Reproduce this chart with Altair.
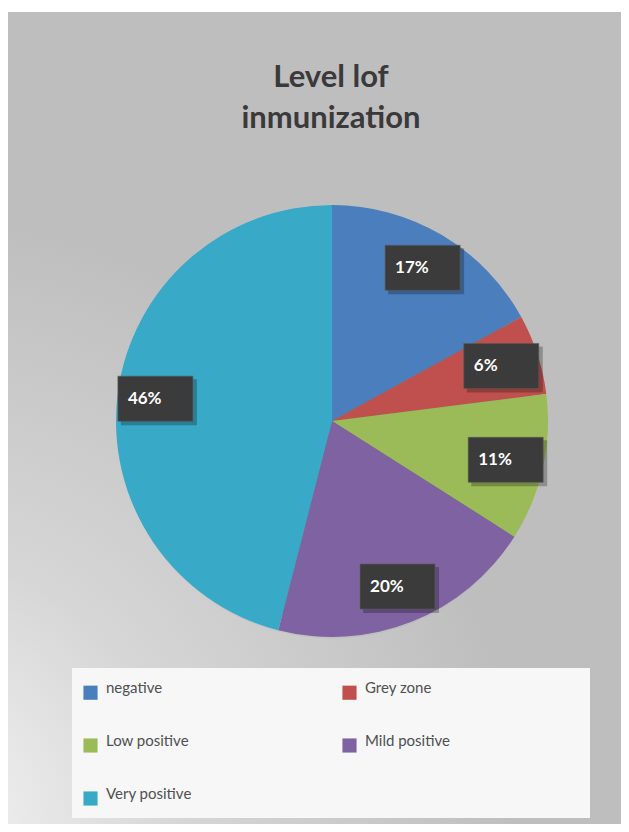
import math
import altair as alt
import pandas as pd

# ---- data ----
title_lines = ["Level lof", "inmunization"]
categories = ["negative", "Grey zone", "Low positive", "Mild positive", "Very positive"]
values = [17, 6, 11, 20, 46]
colors = ["#4a7ebd", "#c0504d", "#9bbb59", "#7f62a1", "#38a9c6"]

# legend fills column by column: reorder so it reads row by row like the original
legend_order = ["negative", "Low positive", "Very positive", "Grey zone", "Mild positive"]
legend_colors = [colors[categories.index(c)] for c in legend_order]

df = pd.DataFrame({"category": categories, "value": values, "idx": list(range(len(values)))})
one = pd.DataFrame({"a": [0]})

# ---- layout / style ----
W, H = 613, 816
CX, CY = 324, 413
R = 216
LR = 178          # label radius
BW, BH = 75, 45   # label box size
FONT = "Lato"

bg = alt.Chart(one).mark_rect(
    color=alt.Gradient(
        gradient="radial",
        x1=0.0, y1=1.0, r1=0.0, x2=0.0, y2=1.0, r2=0.75,
        stops=[alt.GradientStop(color="#f6f6f6", offset=0),
               alt.GradientStop(color="#d6d6d6", offset=0.45),
               alt.GradientStop(color="#bfbebf", offset=1)],
    )
).encode(x=alt.value(0), x2=alt.value(W), y=alt.value(4), y2=alt.value(H))

shadows = []
for d, op in [(26, 0.035), (20, 0.045), (15, 0.055), (10, 0.07), (6, 0.09), (3, 0.11)]:
    shadows.append(
        alt.Chart(one).mark_circle(color="black", opacity=op).encode(
            x=alt.value(CX), y=alt.value(CY + 3), size=alt.value(math.pi * (R + d) ** 2)
        )
    )

title = alt.Chart(one).mark_text(
    font=FONT, fontSize=31, fontWeight="bold", color="#3a3a3a",
    align="center", baseline="alphabetic", lineHeight=41,
).encode(x=alt.value(323), y=alt.value(79), text=alt.value(title_lines))

legend_box = alt.Chart(one).mark_rect(color="#f7f7f7").encode(
    x=alt.value(64), x2=alt.value(582), y=alt.value(660), y2=alt.value(810)
)

base = alt.Chart(df)

pie = base.mark_arc(outerRadius=R).encode(
    theta=alt.Theta("value:Q", stack=True),
    order=alt.Order("idx:Q"),
    color=alt.Color(
        "category:N",
        scale=alt.Scale(domain=legend_order, range=legend_colors),
        sort=legend_order,
        legend=alt.Legend(
            title=None, orient="none", legendX=75, legendY=677, columns=2,
            symbolType="square", symbolSize=200, symbolStrokeWidth=0, symbolOpacity=1,
            labelFont=FONT, labelFontSize=15, labelColor="#505050",
            labelOffset=8, rowPadding=33, columnPadding=150,
            labelBaseline="alphabetic", padding=0,
        ),
    ),
    x=alt.value(CX), y=alt.value(CY),
)

lab = base.transform_window(
    cum="sum(value)", sort=[alt.SortField("idx")], frame=[None, 0]
).transform_joinaggregate(total="sum(value)").transform_calculate(
    mid="(datum.cum - datum.value / 2) / datum.total * 2 * PI",
    lx=f"{CX} + {LR} * sin(datum.mid)",
    ly=f"{CY} - {LR} * cos(datum.mid)",
    bx0=f"datum.lx - {BW / 2}", bx1=f"datum.lx + {BW / 2}",
    by0=f"datum.ly - {BH / 2}", by1=f"datum.ly + {BH / 2}",
    sx0=f"datum.lx - {BW / 2} + 3", sx1=f"datum.lx + {BW / 2} + 4",
    sy0=f"datum.ly - {BH / 2} + 3", sy1=f"datum.ly + {BH / 2} + 4",
    txt="datum.value + '%'",
)

box_shadow = lab.mark_rect(color="black", opacity=0.25).encode(
    x=alt.X("sx0:Q", scale=None), x2="sx1:Q",
    y=alt.Y("sy0:Q", scale=None), y2="sy1:Q",
)
box = lab.mark_rect(color="#3b3b3b", stroke="#5a5a5a", strokeWidth=0.6).encode(
    x=alt.X("bx0:Q", scale=None), x2="bx1:Q",
    y=alt.Y("by0:Q", scale=None), y2="by1:Q",
)
text = lab.mark_text(
    font=FONT, fontSize=17, fontWeight="bold", color="white",
    align="left", baseline="middle", dx=-BW / 2 + 10,
).encode(x=alt.X("lx:Q", scale=None), y=alt.Y("ly:Q", scale=None), text="txt:N")

chart = alt.layer(
    bg, *shadows, title, legend_box, pie, box_shadow, box, text
).properties(
    width=W, height=H, padding=0,
    autosize=alt.AutoSizeParams(type="none"),
    background="white",
).configure_view(stroke=None)

chart.save("out.html", embed_options={"renderer": "svg", "actions": False})
